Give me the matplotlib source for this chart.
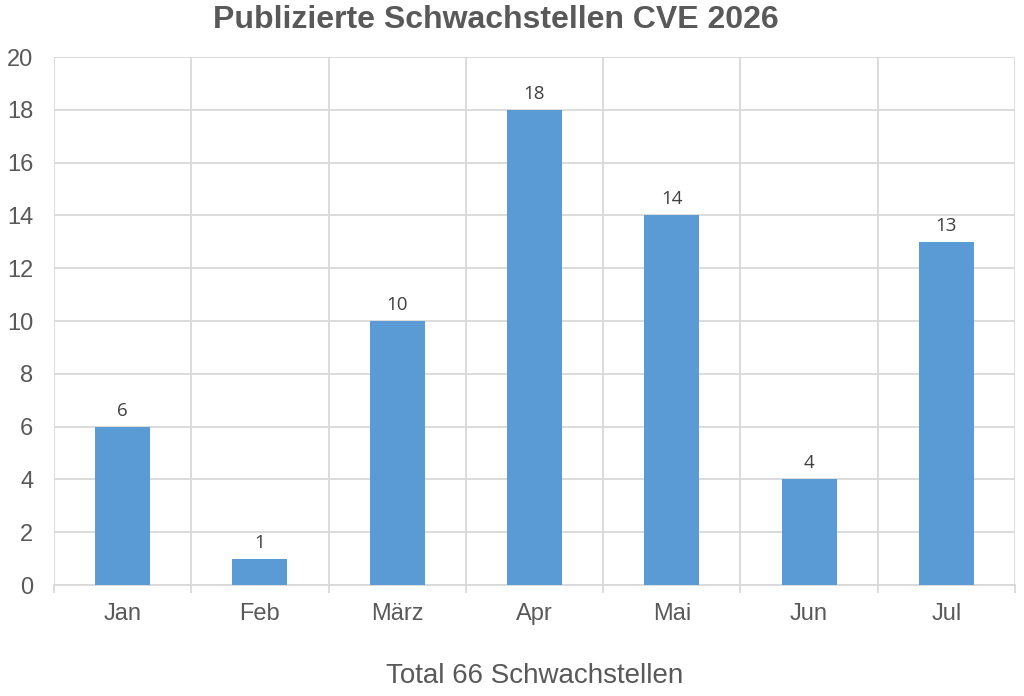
import matplotlib
matplotlib.use("Agg")
import matplotlib.pyplot as plt
import numpy as np

months = ["Jan", "Feb", "März", "Apr", "Mai", "Jun", "Jul"]
values = [6, 1, 10, 18, 14, 4, 13]
yticks = [0, 2, 4, 6, 8, 10, 12, 14, 16, 18, 20]
title = "Publizierte Schwachstellen CVE 2026"
xlabel = "Total 66 Schwachstellen"

plt.rcParams['font.family'] = ['Liberation Sans', 'DejaVu Sans']

fig = plt.figure(figsize=(10.24, 6.96), dpi=100)
ax = fig.add_axes([54/1024, 1-585/696, (1015-54)/1024, (585-57)/696])

x = np.arange(len(months))
ax.bar(x, values, width=0.4, color="#5B9BD5", zorder=3)
for xi, v in zip(x, values):
    ax.annotate(str(v), (xi, v), xytext=(0, 5), textcoords="offset points",
                ha="center", va="bottom", fontsize=13.5, color="#404040",
                family=["Open Sans", "DejaVu Sans"])

ax.set_xlim(-0.5, len(months) - 0.5)
ax.set_ylim(0, 20)
ax.set_yticks(yticks)
ax.set_xticks(x)
ax.set_xticklabels(months)
ax.set_xticks(np.arange(-0.5, len(months)), minor=True)

grid_c = "#D9D9D9"
ax.grid(axis="y", color=grid_c, linewidth=1.3, zorder=0)
ax.grid(axis="x", which="minor", color=grid_c, linewidth=1.3, zorder=0)
ax.tick_params(axis="x", which="major", length=0, pad=13, labelsize=17, labelcolor="#595959")
ax.tick_params(axis="x", which="minor", length=6, width=1.3, color=grid_c)
ax.tick_params(axis="y", length=0, pad=15, labelsize=17, labelcolor="#595959")
for s in ["top", "right", "left"]:
    ax.spines[s].set_visible(False)
ax.spines["bottom"].set_color(grid_c)
ax.spines["bottom"].set_linewidth(1.3)

fig.text(496/1024, 1-20/696, title, ha="center", va="center", fontsize=23,
         fontweight="bold", color="#595959")
fig.text(535/1024, 1-676/696, xlabel, ha="center", va="center", fontsize=20,
         color="#595959")

fig.savefig("out.png", dpi=100)
